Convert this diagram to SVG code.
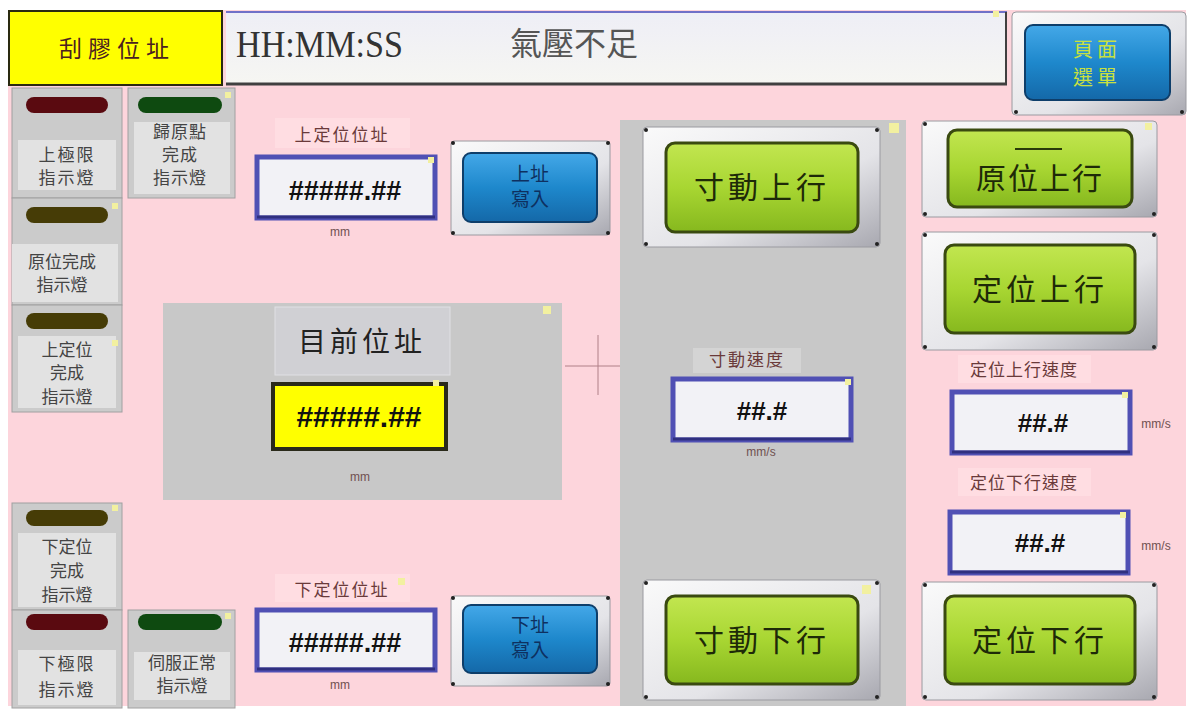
<svg xmlns="http://www.w3.org/2000/svg" width="1192" height="711" viewBox="0 0 1192 711">
<defs>
<linearGradient id="gGreen" x1="0" y1="0" x2="0" y2="1">
<stop offset="0" stop-color="#C2E650"/><stop offset="0.5" stop-color="#A8D632"/><stop offset="1" stop-color="#86B81E"/>
</linearGradient>
<linearGradient id="gBlue" x1="0" y1="0" x2="0" y2="1">
<stop offset="0" stop-color="#44A8E8"/><stop offset="0.5" stop-color="#1E88CC"/><stop offset="1" stop-color="#1468A8"/>
</linearGradient>
<linearGradient id="gBezel" x1="0" y1="0" x2="1" y2="1">
<stop offset="0" stop-color="#FAFAFA"/><stop offset="0.6" stop-color="#E4E4E8"/><stop offset="1" stop-color="#A8A8B0"/>
</linearGradient>
<linearGradient id="gHead" x1="0" y1="0" x2="0" y2="1">
<stop offset="0" stop-color="#EEEEF6"/><stop offset="1" stop-color="#F6F6F2"/>
</linearGradient>
<style>
.cjk{font-family:"Noto Sans CJK TC","Noto Sans CJK SC",sans-serif;}
.panel{fill:#CBCBCB;stroke:#A0A0A0;stroke-width:1;}
.lampR{fill:#5A0A10;}
.lampG{fill:#0E4A10;}
.lampO{fill:#463C06;}
.ptxt{font-family:"Noto Sans CJK TC",sans-serif;font-size:17px;fill:#444;text-anchor:middle;}
.tbg{fill:#E2E2E2;}
.lbl{font-family:"Noto Sans CJK TC",sans-serif;font-size:17px;fill:#6A3A3A;text-anchor:middle;}
.lblbg{fill:#FFDDE2;}
.inp{fill:#F2F2F6;stroke:#5050B4;stroke-width:5;}
.inpb{fill:none;stroke:#303080;stroke-width:3;}
.hash{font-family:"Liberation Sans",sans-serif;font-weight:bold;fill:#111;text-anchor:middle;}
.unit{font-family:"Liberation Sans",sans-serif;font-size:12px;fill:#705050;text-anchor:middle;}
.bezel{fill:url(#gBezel);stroke:#9A9AA0;stroke-width:1;}
.gbtn{fill:url(#gGreen);stroke:#3A4A10;stroke-width:3;}
.gtxt{font-family:"Noto Sans CJK TC",sans-serif;font-size:30px;fill:#1E2A08;text-anchor:middle;}
.bbtn{fill:url(#gBlue);stroke:#0E3E6A;stroke-width:2;}
.btxt{font-family:"Noto Sans CJK TC",sans-serif;font-size:19px;fill:#0E3060;text-anchor:middle;}
.dot{fill:#222;}
.mk{fill:#F2F0A0;}
</style>
</defs>
<rect x="0" y="0" width="1192" height="711" fill="#FFFFFF"/>
<rect x="8" y="10" width="1178" height="696" fill="#FDD5DC"/>

<!-- header -->
<g id="title">
<rect x="9" y="11" width="213" height="74" fill="#FFFF00" stroke="#2A2A10" stroke-width="2"/>
<text x="117" y="57" class="cjk" font-size="23" fill="#4A2020" text-anchor="middle" letter-spacing="6">刮膠位址</text>
</g>
<g id="alarm">
<rect x="226" y="11" width="781" height="74" fill="url(#gHead)"/>
<line x1="226" y1="12" x2="1007" y2="12" stroke="#7070C8" stroke-width="2"/>
<line x1="226" y1="84" x2="1007" y2="84" stroke="#404040" stroke-width="3"/>
<line x1="1006" y1="12" x2="1006" y2="85" stroke="#404040" stroke-width="2"/>
<text x="236" y="57" font-family="Liberation Serif,serif" font-size="37" fill="#333" textLength="167" lengthAdjust="spacingAndGlyphs">HH:MM:SS</text>
<text x="510" y="55" class="cjk" font-size="32" fill="#555">氣壓不足</text>
<rect x="993" y="11" width="6" height="6" class="mk"/>
</g>
<g id="menu-btn">
<rect x="1012" y="12" width="174" height="103" rx="4" class="bezel"/>
<rect x="1025" y="25" width="145" height="75" rx="8" class="bbtn"/>
<text x="1097" y="57" class="cjk" font-size="20" fill="#C8E040" text-anchor="middle" letter-spacing="4">頁面</text>
<text x="1097" y="85" class="cjk" font-size="20" fill="#C8E040" text-anchor="middle" letter-spacing="4">選單</text>
<circle cx="1016" cy="112" r="2" class="dot"/><circle cx="1182" cy="112" r="2" class="dot"/>
</g>

<!-- left indicator panels -->
<g id="lamp-upper-limit">
<rect x="12" y="88" width="110" height="110" class="panel"/>
<rect x="26" y="97" width="82" height="16" rx="8" class="lampR"/>
<rect x="18" y="140" width="98" height="50" class="tbg"/>
<text x="67" y="161" class="ptxt" letter-spacing="2">上極限</text>
<text x="67" y="184" class="ptxt" letter-spacing="2">指示燈</text>
</g>
<g id="lamp-home-done">
<rect x="128" y="88" width="107" height="110" class="panel"/>
<rect x="138" y="97" width="84" height="16" rx="8" class="lampG"/>
<rect x="134" y="122" width="96" height="72" class="tbg"/>
<text x="180" y="138" class="ptxt" font-size="13" letter-spacing="1">歸原點</text>
<text x="180" y="161" class="ptxt" font-size="13" letter-spacing="1">完成</text>
<text x="180" y="184" class="ptxt" font-size="13" letter-spacing="1">指示燈</text>
<rect x="225" y="92" width="6" height="6" class="mk"/>
</g>
<g id="lamp-origin-done">
<rect x="12" y="198" width="110" height="107" class="panel"/>
<rect x="26" y="207" width="82" height="16" rx="8" class="lampO"/>
<rect x="12" y="244" width="106" height="58" class="tbg"/>
<text x="62" y="268" class="ptxt">原位完成</text>
<text x="62" y="291" class="ptxt">指示燈</text>
<rect x="112" y="203" width="6" height="6" class="mk"/>
</g>
<g id="lamp-upper-pos-done">
<rect x="12" y="305" width="110" height="107" class="panel"/>
<rect x="26" y="313" width="82" height="16" rx="8" class="lampO"/>
<rect x="18" y="336" width="98" height="72" class="tbg"/>
<text x="67" y="356" class="ptxt">上定位</text>
<text x="67" y="379" class="ptxt">完成</text>
<text x="67" y="403" class="ptxt">指示燈</text>
<rect x="112" y="340" width="6" height="6" class="mk"/>
</g>
<g id="lamp-lower-pos-done">
<rect x="12" y="503" width="110" height="107" class="panel"/>
<rect x="26" y="510" width="82" height="16" rx="8" class="lampO"/>
<rect x="18" y="533" width="98" height="74" class="tbg"/>
<text x="67" y="553" class="ptxt">下定位</text>
<text x="67" y="577" class="ptxt">完成</text>
<text x="67" y="601" class="ptxt">指示燈</text>
<rect x="112" y="505" width="6" height="6" class="mk"/>
</g>
<g id="lamp-lower-limit">
<rect x="12" y="610" width="110" height="98" class="panel"/>
<rect x="26" y="614" width="82" height="16" rx="8" class="lampR"/>
<rect x="18" y="650" width="98" height="55" class="tbg"/>
<text x="67" y="670" class="ptxt" letter-spacing="2">下極限</text>
<text x="67" y="696" class="ptxt" letter-spacing="2">指示燈</text>
</g>
<g id="lamp-servo-ok">
<rect x="128" y="610" width="107" height="98" class="panel"/>
<rect x="138" y="614" width="84" height="16" rx="8" class="lampG"/>
<rect x="134" y="652" width="96" height="48" class="tbg"/>
<text x="182" y="669" class="ptxt" font-size="15">伺服正常</text>
<text x="182" y="692" class="ptxt" font-size="15">指示燈</text>
<rect x="225" y="613" width="6" height="6" class="mk"/>
</g>

<!-- upper address -->
<g id="upper-addr">
<rect x="275" y="118" width="135" height="30" class="lblbg"/>
<text x="342" y="141" class="lbl" letter-spacing="2">上定位位址</text>
<rect x="257" y="157" width="178" height="61" class="inp"/>
<line x1="257" y1="217" x2="435" y2="217" class="inpb"/>
<text x="345" y="200" class="hash" font-size="27">#####.##</text>
<text x="340" y="236" class="unit">mm</text>
<rect x="428" y="157" width="6" height="6" class="mk"/>
</g>
<g id="upper-write-btn">
<rect x="451" y="141" width="159" height="94" rx="3" class="bezel"/>
<rect x="463" y="153" width="134" height="69" rx="8" class="bbtn"/>
<text x="530" y="181" class="btxt">上址</text>
<text x="530" y="206" class="btxt">寫入</text>
<circle cx="453" cy="143" r="2" class="dot"/><circle cx="608" cy="143" r="2" class="dot"/>
<circle cx="453" cy="233" r="2" class="dot"/><circle cx="608" cy="233" r="2" class="dot"/>
</g>

<!-- current position -->
<g id="current-pos">
<rect x="163" y="303" width="399" height="197" fill="#C8C8C8"/>
<rect x="275" y="307" width="175" height="68" fill="#D0D0D4" stroke="#E0E0E4" stroke-width="1"/>
<text x="362" y="352" class="cjk" font-size="28" fill="#222" text-anchor="middle" letter-spacing="4">目前位址</text>
<rect x="273" y="384" width="173" height="65" fill="#FFFF00" stroke="#2A2A1A" stroke-width="4"/>
<text x="359" y="427" class="hash" font-size="30">#####.##</text>
<text x="360" y="481" class="unit" fill="#555">mm</text>
<rect x="543" y="306" width="8" height="8" class="mk"/>
<rect x="433" y="380" width="6" height="6" class="mk"/>
</g>

<!-- crosshair -->
<g id="crosshair">
<line x1="565" y1="366" x2="626" y2="366" stroke="#B08088" stroke-width="1"/>
<line x1="598" y1="335" x2="598" y2="395" stroke="#B08088" stroke-width="1"/>
</g>

<!-- middle jog column -->
<g id="jog-column">
<rect x="620" y="120" width="286" height="586" fill="#C8C8C8"/>
<rect x="889" y="123" width="10" height="10" class="mk"/>
</g>
<g id="jog-up-btn">
<rect x="643" y="127" width="237" height="120" rx="4" class="bezel"/>
<rect x="666" y="143" width="192" height="89" rx="9" class="gbtn"/>
<text x="762" y="198" class="gtxt" letter-spacing="4">寸動上行</text>
<circle cx="646" cy="130" r="2" class="dot"/><circle cx="877" cy="130" r="2" class="dot"/>
<circle cx="646" cy="244" r="2" class="dot"/><circle cx="877" cy="244" r="2" class="dot"/>
</g>
<g id="jog-speed">
<rect x="693" y="348" width="108" height="25" fill="#D4D4D4"/>
<text x="747" y="366" class="lbl" font-size="15" fill="#333" letter-spacing="2">寸動速度</text>
<rect x="673" y="379" width="178" height="61" class="inp"/>
<line x1="673" y1="439" x2="851" y2="439" class="inpb"/>
<text x="762" y="420" class="hash" font-size="26">##.#</text>
<text x="761" y="456" class="unit" fill="#666">mm/s</text>
<rect x="845" y="379" width="6" height="6" class="mk"/>
</g>
<g id="jog-down-btn">
<rect x="643" y="580" width="237" height="120" rx="4" class="bezel"/>
<rect x="666" y="596" width="192" height="88" rx="9" class="gbtn"/>
<text x="762" y="651" class="gtxt" letter-spacing="4">寸動下行</text>
<circle cx="646" cy="583" r="2" class="dot"/><circle cx="877" cy="583" r="2" class="dot"/>
<circle cx="646" cy="697" r="2" class="dot"/><circle cx="877" cy="697" r="2" class="dot"/>
<rect x="862" y="585" width="9" height="9" class="mk"/>
</g>

<!-- right column -->
<g id="home-up-btn">
<rect x="922" y="121" width="235" height="96" rx="4" class="bezel"/>
<rect x="948" y="130" width="184" height="77" rx="9" class="gbtn"/>
<line x1="1015" y1="149" x2="1062" y2="149" stroke="#2A3A0A" stroke-width="2"/>
<text x="1040" y="189" class="gtxt" font-size="28" letter-spacing="2">原位上行</text>
<circle cx="925" cy="124" r="2" class="dot"/><circle cx="925" cy="214" r="2" class="dot"/><circle cx="1154" cy="214" r="2" class="dot"/>
<rect x="1145" y="123" width="7" height="7" class="mk"/>
</g>
<g id="pos-up-btn">
<rect x="922" y="232" width="235" height="118" rx="4" class="bezel"/>
<rect x="945" y="245" width="190" height="88" rx="9" class="gbtn"/>
<text x="1040" y="300" class="gtxt" letter-spacing="4">定位上行</text>
<circle cx="925" cy="235" r="2" class="dot"/><circle cx="1154" cy="235" r="2" class="dot"/>
<circle cx="925" cy="347" r="2" class="dot"/><circle cx="1154" cy="347" r="2" class="dot"/>
</g>
<g id="pos-up-speed">
<rect x="958" y="355" width="133" height="28" class="lblbg"/>
<text x="1024" y="376" class="lbl" font-size="16" fill="#4A2A2A" letter-spacing="1">定位上行速度</text>
<rect x="952" y="392" width="178" height="61" class="inp"/>
<line x1="952" y1="452" x2="1130" y2="452" class="inpb"/>
<text x="1043" y="432" class="hash" font-size="26">##.#</text>
<text x="1156" y="428" class="unit" fill="#555">mm/s</text>
<rect x="1122" y="392" width="6" height="6" class="mk"/>
</g>
<g id="pos-down-speed">
<rect x="958" y="468" width="133" height="28" class="lblbg"/>
<text x="1024" y="489" class="lbl" font-size="16" fill="#4A2A2A" letter-spacing="1">定位下行速度</text>
<rect x="950" y="512" width="178" height="61" class="inp"/>
<line x1="950" y1="572" x2="1128" y2="572" class="inpb"/>
<text x="1040" y="552" class="hash" font-size="26">##.#</text>
<text x="1156" y="550" class="unit" fill="#555">mm/s</text>
<rect x="1120" y="512" width="6" height="6" class="mk"/>
</g>
<g id="pos-down-btn">
<rect x="922" y="582" width="235" height="118" rx="4" class="bezel"/>
<rect x="945" y="596" width="190" height="88" rx="9" class="gbtn"/>
<text x="1040" y="651" class="gtxt" letter-spacing="4">定位下行</text>
<circle cx="925" cy="585" r="2" class="dot"/><circle cx="1154" cy="585" r="2" class="dot"/>
<circle cx="925" cy="697" r="2" class="dot"/><circle cx="1154" cy="697" r="2" class="dot"/>
</g>

<!-- lower address -->
<g id="lower-addr">
<rect x="275" y="574" width="135" height="28" class="lblbg"/>
<text x="342" y="596" class="lbl" letter-spacing="2">下定位位址</text>
<rect x="257" y="610" width="178" height="60" class="inp"/>
<line x1="257" y1="669" x2="435" y2="669" class="inpb"/>
<text x="345" y="652" class="hash" font-size="27">#####.##</text>
<text x="340" y="689" class="unit">mm</text>
<rect x="398" y="578" width="7" height="7" class="mk"/>
</g>
<g id="lower-write-btn">
<rect x="451" y="596" width="159" height="90" rx="3" class="bezel"/>
<rect x="463" y="605" width="134" height="68" rx="8" class="bbtn"/>
<text x="530" y="632" class="btxt">下址</text>
<text x="530" y="657" class="btxt">寫入</text>
<circle cx="453" cy="598" r="2" class="dot"/><circle cx="608" cy="598" r="2" class="dot"/>
<circle cx="453" cy="684" r="2" class="dot"/><circle cx="608" cy="684" r="2" class="dot"/>
</g>

<g id="connectors"></g>
</svg>
